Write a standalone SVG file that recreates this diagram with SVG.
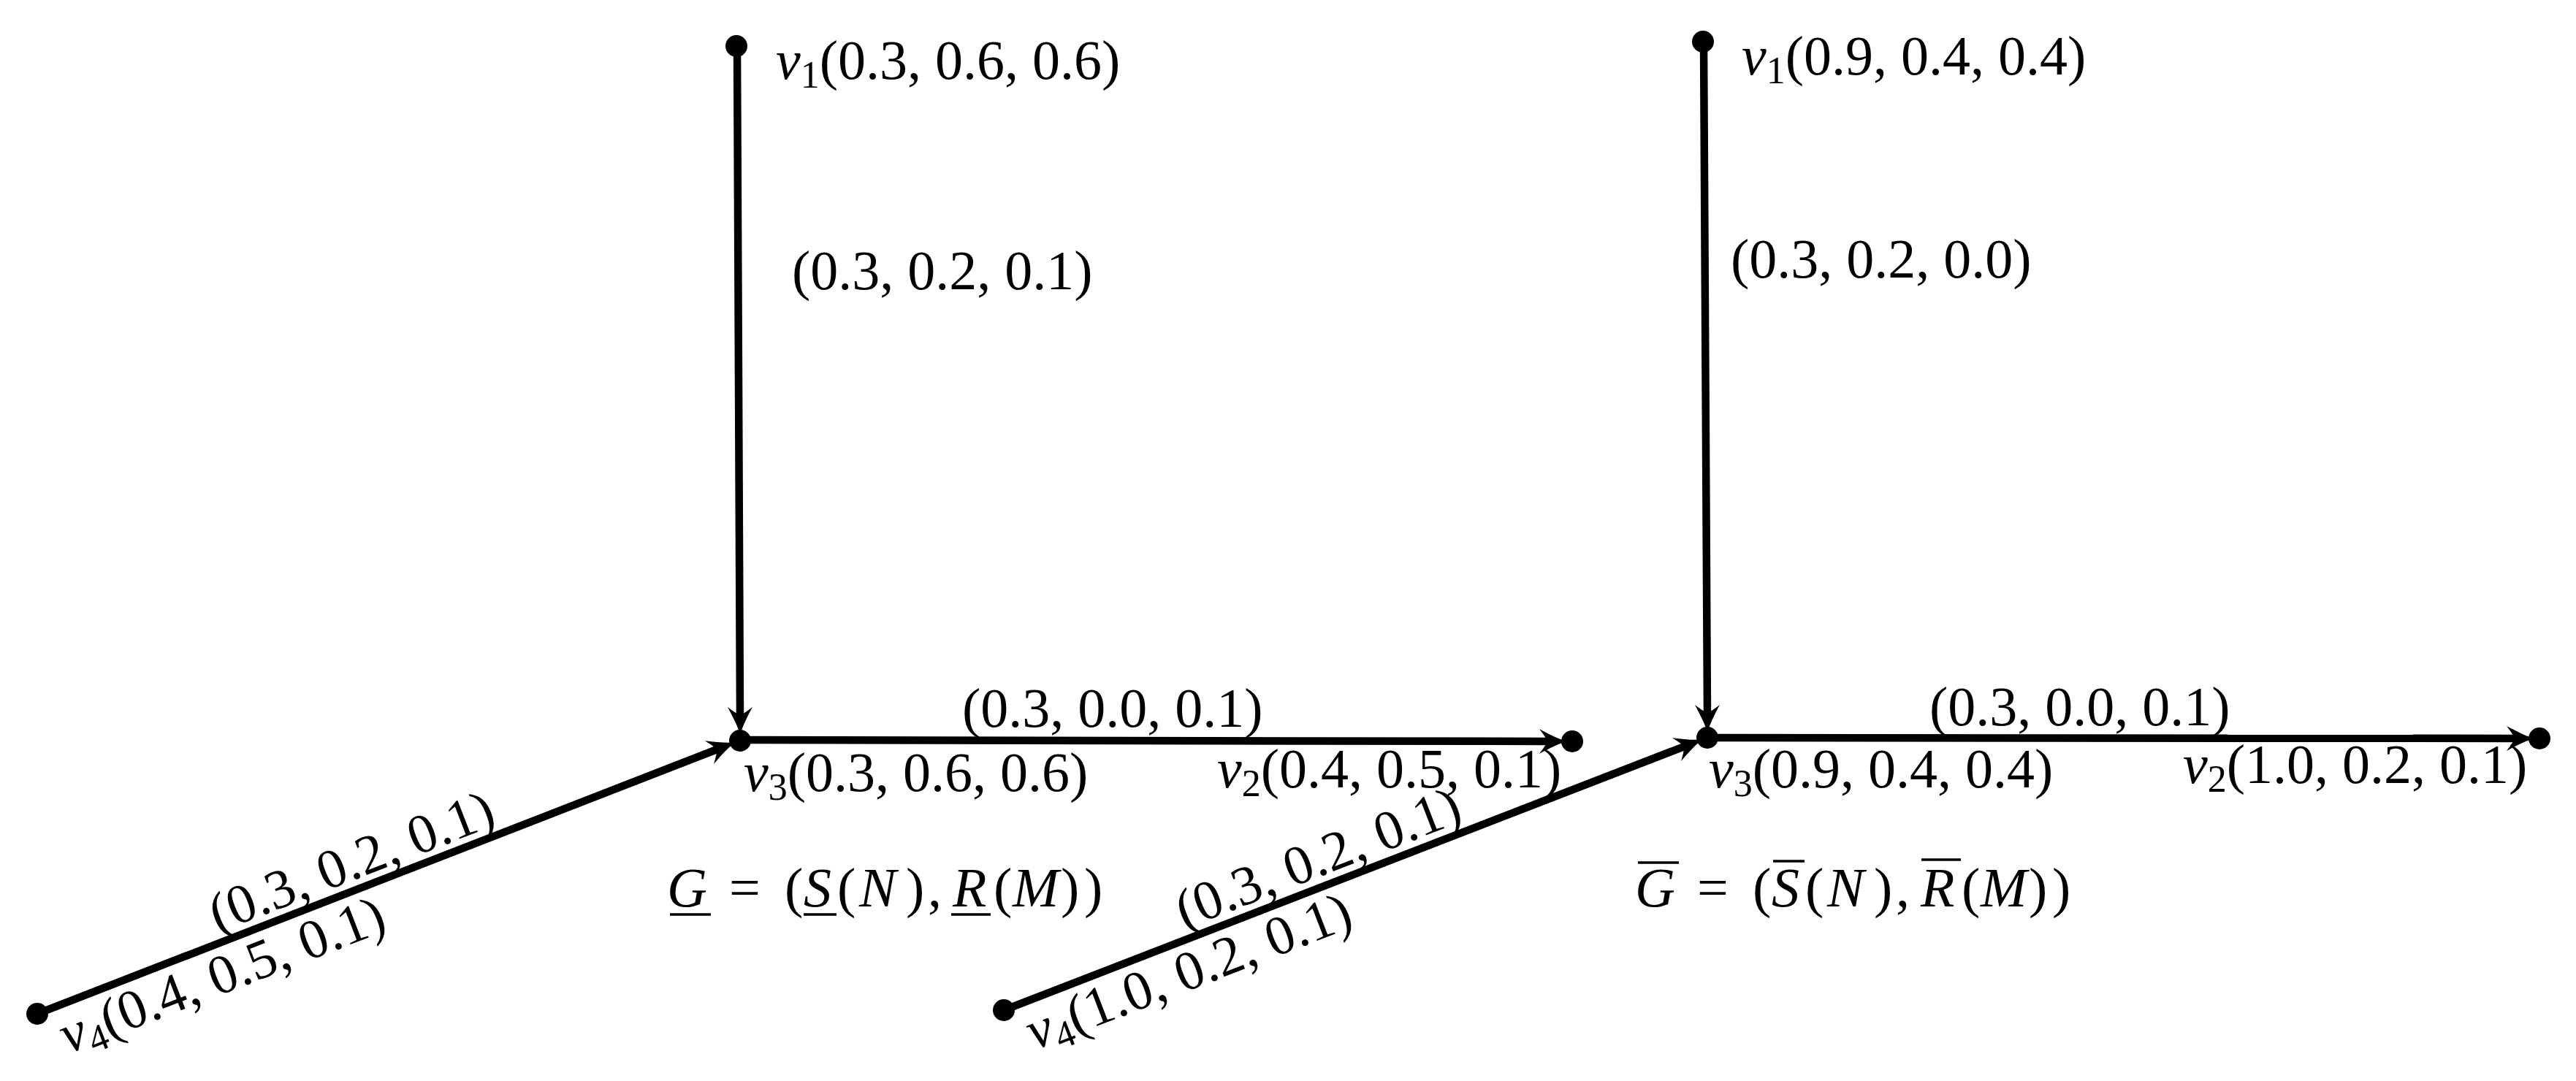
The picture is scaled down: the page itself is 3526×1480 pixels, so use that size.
<svg xmlns="http://www.w3.org/2000/svg" width="3526" height="1480" viewBox="0 0 3526 1480">
<defs>
<style>
.t{font-family:"Liberation Serif","Times New Roman",serif;font-size:76px;fill:#000}
.i{font-style:italic}
.s{font-size:52px}
.e{stroke:#000;stroke-width:10.5;fill:none;marker-end:url(#arr)}
.d{fill:#000}
.bar{stroke:#000;stroke-width:3.5}
</style>
<marker id="arr" viewBox="-16 -20 44 40" markerWidth="44" markerHeight="40" refX="0" refY="0" markerUnits="userSpaceOnUse" orient="auto" overflow="visible">
<path d="M24,0 C13,-3 1,-9 -14,-17 C-7,-8 -4,-3 -3,0 C-4,3 -7,8 -14,17 C1,9 13,3 24,0 Z" fill="#000"/>
</marker>
</defs>
<rect width="3526" height="1480" fill="#fff"/>

<g id="connectors">
<line class="e" x1="1009" y1="63" x2="1013" y2="982"/>
<line class="e" x1="51" y1="1388" x2="984" y2="1025"/>
<line class="e" x1="1013" y1="1013" x2="2121" y2="1015"/>
<line class="e" x1="2332" y1="57" x2="2337" y2="979"/>
<line class="e" x1="1374" y1="1383" x2="2308" y2="1021"/>
<line class="e" x1="2337" y1="1010" x2="3445" y2="1011"/>
</g>

<g id="edge-labels">
<text class="t" x="1084" y="396">(0.3, 0.2, 0.1)</text>
<text class="t" x="1317" y="995">(0.3, 0.0, 0.1)</text>
<text class="t" x="298" y="1277" transform="rotate(-21.2 298 1277)">(0.3, 0.2, 0.1)</text>
<text class="t" x="2369" y="380">(0.3, 0.2, 0.0)</text>
<text class="t" x="2641" y="993">(0.3, 0.0, 0.1)</text>
<text class="t" x="1621" y="1272" transform="rotate(-21.2 1621 1272)">(0.3, 0.2, 0.1)</text>
</g>

<g id="L-v1">
<circle class="d" cx="1008" cy="63" r="15"/>
<text class="t" x="1062" y="108"><tspan class="i">v</tspan><tspan class="s" dy="12">1</tspan><tspan dy="-12">(0.3, 0.6, 0.6)</tspan></text>
</g>
<g id="L-v3">
<circle class="d" cx="1013" cy="1014" r="15"/>
<text class="t" x="1018" y="1083"><tspan class="i">v</tspan><tspan class="s" dy="12">3</tspan><tspan dy="-12">(0.3, 0.6, 0.6)</tspan></text>
</g>
<g id="L-v2">
<circle class="d" cx="2152" cy="1015" r="15"/>
<text class="t" x="1666" y="1078"><tspan class="i">v</tspan><tspan class="s" dy="12">2</tspan><tspan dy="-12">(0.4, 0.5, 0.1)</tspan></text>
</g>
<g id="L-v4">
<circle class="d" cx="51" cy="1388" r="15"/>
<text class="t" x="93" y="1443" transform="rotate(-21.2 93 1443)"><tspan class="i">v</tspan><tspan class="s" dy="12">4</tspan><tspan dy="-12">(0.4, 0.5, 0.1)</tspan></text>
</g>

<g id="R-v1">
<circle class="d" cx="2331" cy="57" r="15"/>
<text class="t" x="2384" y="102"><tspan class="i">v</tspan><tspan class="s" dy="12">1</tspan><tspan dy="-12">(0.9, 0.4, 0.4)</tspan></text>
</g>
<g id="R-v3">
<circle class="d" cx="2337" cy="1010" r="15"/>
<text class="t" x="2339" y="1078"><tspan class="i">v</tspan><tspan class="s" dy="12">3</tspan><tspan dy="-12">(0.9, 0.4, 0.4)</tspan></text>
</g>
<g id="R-v2">
<circle class="d" cx="3476" cy="1011" r="15"/>
<text class="t" x="2988" y="1072"><tspan class="i">v</tspan><tspan class="s" dy="12">2</tspan><tspan dy="-12">(1.0, 0.2, 0.1)</tspan></text>
</g>
<g id="R-v4">
<circle class="d" cx="1374" cy="1383" r="15"/>
<text class="t" x="1416" y="1438" transform="rotate(-21.2 1416 1438)"><tspan class="i">v</tspan><tspan class="s" dy="12">4</tspan><tspan dy="-12">(1.0, 0.2, 0.1)</tspan></text>
</g>

<g id="formula-lower">
<text class="t" y="1241"><tspan class="i" x="913">G</tspan><tspan x="998">=</tspan><tspan x="1074">(</tspan><tspan class="i" x="1100">S</tspan><tspan x="1146">(</tspan><tspan class="i" x="1176">N</tspan><tspan x="1240">)</tspan><tspan x="1270">,</tspan><tspan class="i" x="1304">R</tspan><tspan x="1360">(</tspan><tspan class="i" x="1386">M</tspan><tspan x="1452">)</tspan><tspan x="1484">)</tspan></text>
<line class="bar" x1="917" y1="1252" x2="973" y2="1252"/>
<line class="bar" x1="1100" y1="1252" x2="1145" y2="1252"/>
<line class="bar" x1="1302" y1="1252" x2="1356" y2="1252"/>
</g>

<g id="formula-upper">
<text class="t" y="1241"><tspan class="i" x="2238">G</tspan><tspan x="2323">=</tspan><tspan x="2399">(</tspan><tspan class="i" x="2425">S</tspan><tspan x="2471">(</tspan><tspan class="i" x="2501">N</tspan><tspan x="2565">)</tspan><tspan x="2595">,</tspan><tspan class="i" x="2629">R</tspan><tspan x="2685">(</tspan><tspan class="i" x="2711">M</tspan><tspan x="2777">)</tspan><tspan x="2809">)</tspan></text>
<line class="bar" x1="2242" y1="1181" x2="2298" y2="1181"/>
<line class="bar" x1="2427" y1="1179" x2="2470" y2="1179"/>
<line class="bar" x1="2630" y1="1177" x2="2684" y2="1177"/>
</g>
</svg>
